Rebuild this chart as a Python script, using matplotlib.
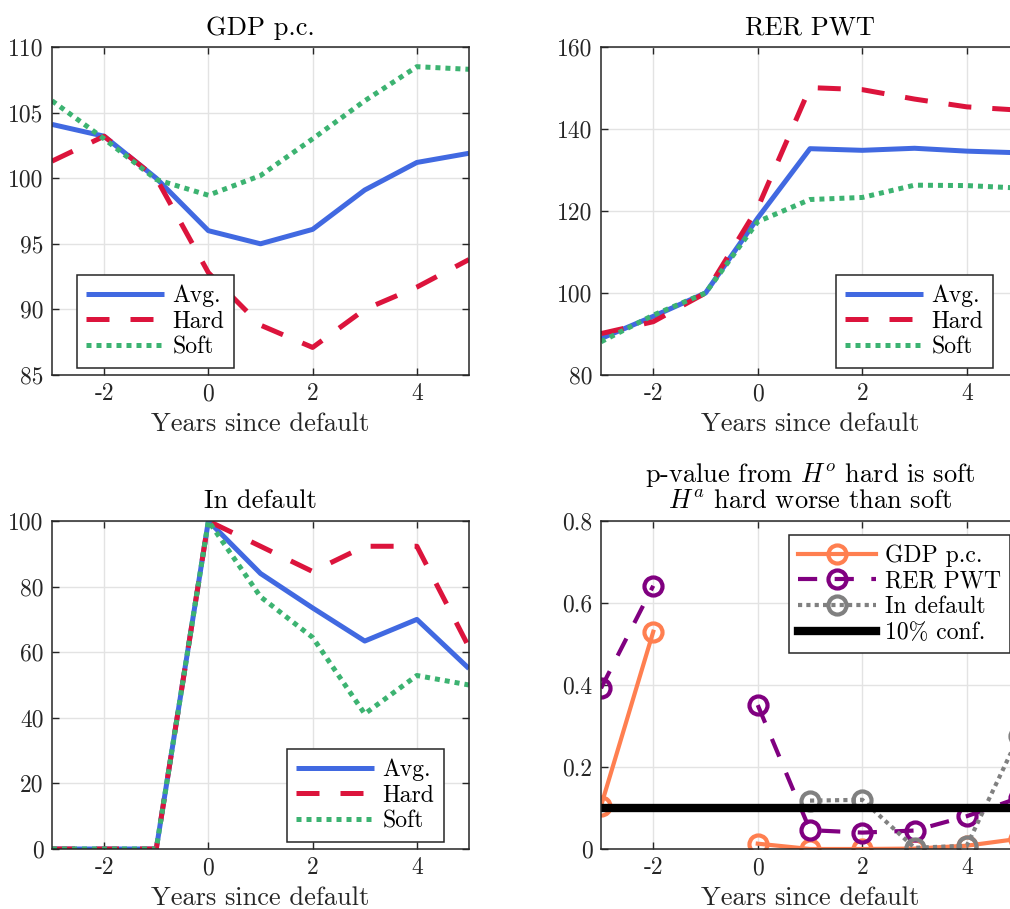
import numpy as np
import matplotlib
matplotlib.use("Agg")
import matplotlib.pyplot as plt

# Years since default
years = [-3, -2, -1, 0, 1, 2, 3, 4, 5]

# GDP per capita (index, year -1 = 100)
gdp_avg = [104.1, 103.2, 100.0, 96.0, 95.0, 96.1, 99.1, 101.2, 101.9]
gdp_hard = [101.3, 103.2, 100.0, 92.8, 88.8, 87.1, 90.0, 91.7, 93.8]
gdp_soft = [105.9, 103.0, 99.9, 98.7, 100.2, 103.0, 105.9, 108.5, 108.3]

# Real exchange rate (PWT)
rer_avg = [88.9, 94.3, 100.0, 118.3, 135.2, 134.8, 135.3, 134.6, 134.2]
rer_hard = [90.1, 93.0, 100.0, 120.8, 150.1, 149.6, 147.3, 145.4, 144.6]
rer_soft = [88.1, 94.6, 100.0, 117.4, 122.8, 123.3, 126.3, 126.2, 125.6]

# Share of countries in default (%)
def_avg = [0, 0, 0, 100, 84.0, 73.5, 63.4, 70.0, 55.0]
def_hard = [0, 0, 0, 100, 92.3, 84.6, 92.3, 92.3, 61.5]
def_soft = [0, 0, 0, 100, 76.9, 64.5, 41.2, 52.9, 50.0]

# p-values (NaN = not defined)
p_gdp = [0.105, 0.53, np.nan, 0.013, 0.0, 0.0, 0.001, 0.008, 0.025]
p_rer = [0.392, 0.642, np.nan, 0.351, 0.046, 0.040, 0.045, 0.080, 0.125]
p_def = [np.nan, np.nan, np.nan, np.nan, 0.118, 0.120, 0.003, 0.008, 0.276]
conf_level = 0.1

plt.rcParams["font.family"] = "cmr10"
plt.rcParams["mathtext.fontset"] = "cm"
plt.rcParams["axes.unicode_minus"] = False
plt.rcParams["axes.formatter.use_mathtext"] = False

W, H = 1010, 909
fig = plt.figure(figsize=(W / 100, H / 100), dpi=100)

AX_COLOR = "#262626"
BLUE, RED, GREEN = "#4169E1", "#DC143C", "#3CB371"
LW = 3.6
DASH = (4.6, 4.2)
DOT = (1.0, 1.0)
FS = 17


def px_axes(x0, y0, x1, y1):
    return fig.add_axes([x0 / W, 1 - y1 / H, (x1 - x0) / W, (y1 - y0) / H])


def style(ax, yticks, ylim):
    ax.set_xlim(-3, 5)
    ax.set_ylim(*ylim)
    ax.set_xticks([-2, 0, 2, 4])
    ax.set_yticks(yticks)
    ax.grid(True, color="#e3e3e3", linewidth=1.0)
    ax.set_axisbelow(True)
    for s in ax.spines.values():
        s.set_color(AX_COLOR)
        s.set_linewidth(1.1)
    ax.tick_params(direction="in", top=True, right=True, length=5, width=1.0,
                   colors=AX_COLOR, labelsize=FS, pad=6)
    ax.set_xlabel("Years since default", fontsize=19, color=AX_COLOR, labelpad=5)


def legend(ax, handles, x0, y0, **kw):
    leg = ax.legend(handles=handles, loc="upper left",
                    bbox_to_anchor=(x0 / W, 1 - y0 / H), bbox_transform=fig.transFigure,
                    borderaxespad=0, fontsize=FS, fancybox=False, framealpha=1,
                    edgecolor=AX_COLOR, handlelength=3.3, labelspacing=0.15,
                    borderpad=0.4, handletextpad=0.35, **kw)
    leg.get_frame().set_linewidth(1.1)
    return leg


def three_lines(ax, avg, hard, soft):
    l1, = ax.plot(years, avg, color=BLUE, lw=LW, label="Avg.", solid_capstyle="butt")
    l2, = ax.plot(years, hard, color=RED, lw=LW, dashes=DASH, label="Hard")
    l3, = ax.plot(years, soft, color=GREEN, lw=LW, dashes=DOT, label="Soft")
    return [l1, l2, l3]


# GDP p.c.
ax1 = px_axes(52, 47, 469, 375)
h = three_lines(ax1, gdp_avg, gdp_hard, gdp_soft)
style(ax1, [85, 90, 95, 100, 105, 110], (85, 110))
ax1.set_title("GDP p.c.", fontsize=19, pad=9)
legend(ax1, h, 77, 275)

# RER PWT
ax2 = px_axes(601, 47, 1019, 375)
h = three_lines(ax2, rer_avg, rer_hard, rer_soft)
style(ax2, [80, 100, 120, 140, 160], (80, 160))
ax2.set_title("RER PWT", fontsize=19, pad=9)
legend(ax2, h, 836, 275)

# In default
ax3 = px_axes(52, 521, 469, 849)
h = three_lines(ax3, def_avg, def_hard, def_soft)
style(ax3, [0, 20, 40, 60, 80, 100], (0, 100))
ax3.set_title("In default", fontsize=19, pad=9)
legend(ax3, h, 287, 749)

# p-values
ax4 = px_axes(601, 521, 1019, 849)
mk = dict(marker="o", markersize=13, markeredgewidth=3.0, markerfacecolor="none", lw=3.0)
la, = ax4.plot(years, p_gdp, color="#FF7F50", label="GDP p.c.", **mk)
lb, = ax4.plot(years, p_rer, color="#800080", dashes=DASH, label="RER PWT", **mk)
lc, = ax4.plot(years, p_def, color="#808080", dashes=DOT, label="In default", **mk)
ld = ax4.axhline(conf_level, color="black", lw=6, label="10% conf.")
style(ax4, [0, 0.2, 0.4, 0.6, 0.8], (0, 0.8))
ax4.set_yticklabels(["0", "0.2", "0.4", "0.6", "0.8"])
ax4.set_title("p-value from $H^o$ hard is soft\n$H^a$ hard worse than soft",
              fontsize=19, pad=9, linespacing=1.05)
legend(ax4, [la, lb, lc, ld], 789, 535)

fig.savefig("out.png", dpi=100)
